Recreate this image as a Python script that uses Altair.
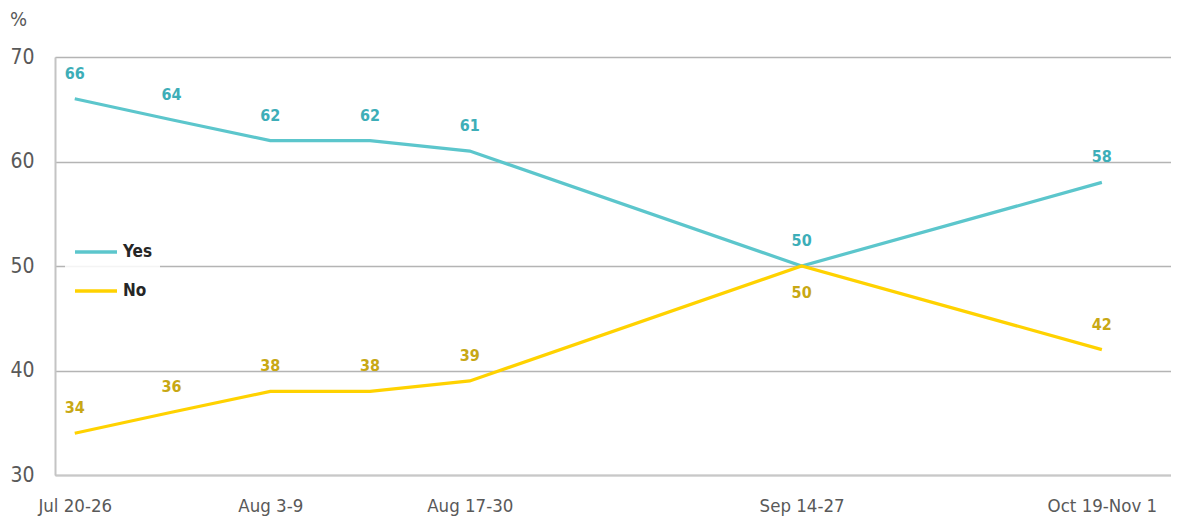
import altair as alt
import pandas as pd

# survey periods (position index along the time axis)
period_pos = [0.0, 0.98, 1.98, 2.99, 4.0, 7.36, 10.4]
period_labels = ["Jul 20-26", "", "Aug 3-9", "", "Aug 17-30", "Sep 14-27", "Oct 19-Nov 1"]
yes_vals = [66, 64, 62, 62, 61, 50, 58]
no_vals = [34, 36, 38, 38, 39, 50, 42]
series_names = ["Yes", "No"]
y_ticks = [30, 40, 50, 60, 70]

FONT = "Liberation Sans Narrow, Arial Narrow, DejaVu Sans Condensed, sans-serif"
LINE_COLORS = ["#5CC6CC", "#FFD200"]
TEXT_COLORS = {"Yes": "#3DAEB8", "No": "#C8A814"}
GREY = "#595959"

wide = pd.DataFrame({"x": period_pos, "period": period_labels, "Yes": yes_vals, "No": no_vals})
long = wide.melt(id_vars=["x", "period"], value_vars=series_names, var_name="series", value_name="value")
long = long.merge(wide[["x", "Yes", "No"]], on="x")

tick_pos = [p for p, l in zip(period_pos, period_labels) if l]
tick_lab = [l for l in period_labels if l]
label_expr = "''"
for p, l in reversed(list(zip(tick_pos, tick_lab))):
    label_expr = f"(abs(datum.value - {p}) < 0.01 ? '{l}' : {label_expr})"

xscale = alt.Scale(domain=[-0.2, 11.1], nice=False, zero=False)
yscale = alt.Scale(domain=[30, 70], nice=False, zero=False)

base = alt.Chart(long)

lines = base.mark_line(strokeWidth=3.2).encode(
    x=alt.X("x:Q", scale=xscale, title=None,
            axis=alt.Axis(values=tick_pos, labelExpr=label_expr, grid=False, ticks=False,
                          domain=True, domainColor="#C8C8C8", domainWidth=2,
                          labelFont=FONT, labelFontSize=18.5, labelColor=GREY,
                          labelPadding=21, labelFlush=False)),
    y=alt.Y("value:Q", scale=yscale, title="%",
            axis=alt.Axis(values=y_ticks, grid=True, gridColor="#B4B4B4", gridWidth=1.5,
                          ticks=False, domain=True, domainColor="#C4C4C4", domainWidth=2,
                          labelFont=FONT, labelFontSize=21, labelColor=GREY, labelPadding=21,
                          titleAngle=0, titleX=-37, titleY=-38, titleAlign="center",
                          titleBaseline="middle", titleFont=FONT, titleFontSize=20,
                          titleFontWeight="normal", titleColor=GREY)),
    color=alt.Color("series:N",
                    scale=alt.Scale(domain=series_names, range=LINE_COLORS),
                    legend=alt.Legend(title=None, orient="none", legendX=10, legendY=164,
                                      symbolType="stroke", symbolSize=1764, symbolStrokeWidth=3.5,
                                      labelFont=FONT, labelFontSize=17, labelFontWeight="bold",
                                      labelColor="#262626", labelOffset=4, rowPadding=8,
                                      padding=8, fillColor="rgba(255,255,255,0.85)")),
    detail="series:N",
)

text_color = alt.Color("series:N", scale=alt.Scale(domain=series_names,
                       range=[TEXT_COLORS["Yes"], TEXT_COLORS["No"]]), legend=None)

labels_above = base.transform_filter(
    "datum.series == 'Yes' || datum.No < datum.Yes"
).mark_text(font=FONT, fontSize=16, fontWeight="bold", dy=-25, baseline="middle").encode(
    x=alt.X("x:Q", scale=xscale),
    y=alt.Y("value:Q", scale=yscale),
    text="value:Q",
    color=text_color,
)

labels_below = base.transform_filter(
    "datum.series == 'No' && datum.No >= datum.Yes"
).mark_text(font=FONT, fontSize=16, fontWeight="bold", dy=27, baseline="middle").encode(
    x=alt.X("x:Q", scale=xscale),
    y=alt.Y("value:Q", scale=yscale),
    text="value:Q",
    color=text_color,
)

chart = alt.layer(lines, labels_above, labels_below).resolve_scale(color="independent").properties(
    width=1116, height=418,
    autosize=alt.AutoSizeParams(type="none"),
    padding={"left": 47, "top": 49, "right": 0, "bottom": 44},
).configure_view(strokeWidth=0).configure(background="white")

chart.save("out.html", embed_options={"renderer": "svg", "actions": False})
